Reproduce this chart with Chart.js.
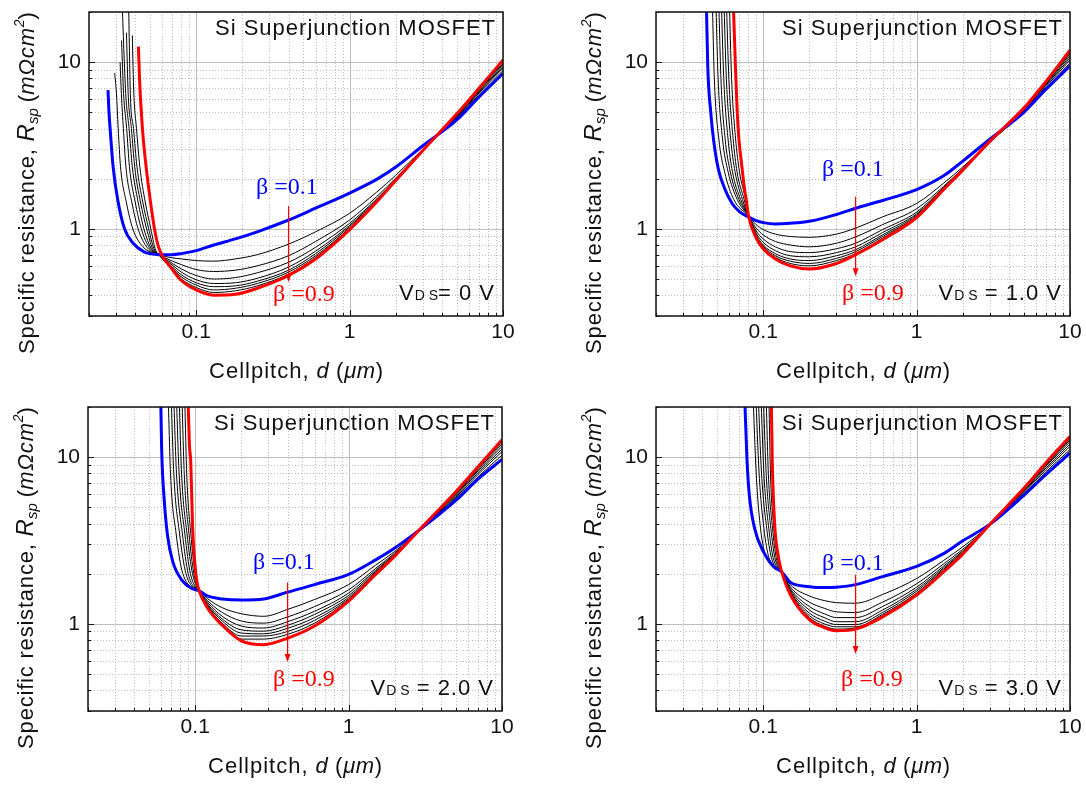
<!DOCTYPE html>
<html>
<head>
<meta charset="utf-8">
<script src="https://cdn.jsdelivr.net/npm/chart.js@4.4.1/dist/chart.umd.min.js"></script>
<style>
    html, body { margin: 0; padding: 0; background: #fff; }
    #wrap { position: relative; width: 1086px; height: 785px; }
    canvas { position: absolute; }
</style>
</head>
<body>
<div id="wrap">
    <canvas id="p0" width="543" height="392" style="left:0;top:0"></canvas>
    <canvas id="p1" width="543" height="392" style="left:543px;top:0"></canvas>
    <canvas id="p2" width="543" height="393" style="left:0;top:392px"></canvas>
    <canvas id="p3" width="543" height="393" style="left:543px;top:392px"></canvas>
</div>
<script>
// beta = 0.1 ... 0.9, one curve each (0.1 blue, 0.9 red, rest black)
const betaValues = [0.1, 0.2, 0.3, 0.4, 0.5, 0.6, 0.7, 0.8, 0.9];
const vdsLabels = ["= 0 V", " = 1.0 V", " = 2.0 V", " = 3.0 V"];
const xTickLabels = [0.1, 1, 10];
const yTickLabels = [1, 10];

// ---- VDS = 0 V ----
// steep left branch of each curve, [d, Rsp]
const leftVds0 = [
    [[0.0266, 6.8], [0.027, 5.0], [0.0276, 3.75], [0.0287, 2.37], [0.0308, 1.49], [0.0341, 1.0], [0.0388, 0.82], [0.0454, 0.73], [0.05, 0.71]],
    [[0.0294, 8.6], [0.0302, 6.5], [0.031, 4.0], [0.0321, 2.36], [0.035, 1.45], [0.0386, 1.0], [0.045, 0.78]],
    [[0.0319, 10], [0.0325, 6.5], [0.0335, 4.0], [0.0348, 2.36], [0.038, 1.45], [0.0418, 1.0], [0.048, 0.77]],
    [[0.0326, 13.5], [0.0336, 6.5], [0.0352, 4.0], [0.0367, 2.36], [0.040, 1.45], [0.0439, 1.0], [0.0495, 0.77]],
    [[0.0328, 24], [0.0347, 6.5], [0.0365, 4.0], [0.0383, 2.36], [0.0418, 1.45], [0.0456, 1.0], [0.051, 0.76]],
    [[0.0351, 15], [0.036, 6.5], [0.0378, 4.0], [0.0397, 2.36], [0.0433, 1.45], [0.0475, 1.0], [0.052, 0.76]],
    [[0.0362, 24], [0.0372, 6.5], [0.039, 4.0], [0.0411, 2.36], [0.0448, 1.45], [0.049, 1.0], [0.053, 0.76]],
    [[0.0383, 14.5], [0.0392, 6.5], [0.0408, 4.0], [0.0429, 2.36], [0.0465, 1.45], [0.0506, 1.0], [0.054, 0.76]],
    [[0.042, 12.4], [0.0427, 8.0], [0.0436, 5.5], [0.045, 3.6], [0.0468, 2.5], [0.049, 1.75], [0.0515, 1.25], [0.054, 0.95]]
];
const gridVds0 = [0.057, 0.07, 0.08, 0.1, 0.13, 0.18, 0.25, 0.4, 0.6, 1, 1.5, 2, 3, 5, 7, 10];
const rspVds0 = [
    [0.70, 0.70, 0.71, 0.74, 0.80, 0.87, 0.96, 1.13, 1.33, 1.64, 1.98, 2.35, 3.15, 4.5, 6.2, 8.55],
    [0.70, 0.67, 0.66, 0.645, 0.64, 0.66, 0.70, 0.81, 0.96, 1.24, 1.66, 2.1, 3.0, 4.6, 6.4, 8.9],
    [0.70, 0.64, 0.61, 0.57, 0.555, 0.565, 0.60, 0.69, 0.84, 1.13, 1.56, 2.02, 2.95, 4.65, 6.55, 9.2],
    [0.70, 0.62, 0.575, 0.525, 0.50, 0.51, 0.545, 0.63, 0.775, 1.08, 1.51, 1.98, 2.93, 4.7, 6.65, 9.4],
    [0.70, 0.605, 0.55, 0.495, 0.47, 0.475, 0.505, 0.59, 0.735, 1.05, 1.49, 1.96, 2.93, 4.75, 6.75, 9.6],
    [0.70, 0.59, 0.53, 0.475, 0.45, 0.455, 0.485, 0.565, 0.71, 1.03, 1.47, 1.95, 2.93, 4.8, 6.85, 9.8],
    [0.70, 0.58, 0.515, 0.46, 0.43, 0.44, 0.47, 0.55, 0.69, 1.01, 1.46, 1.95, 2.94, 4.83, 6.9, 10.0],
    [0.70, 0.57, 0.50, 0.445, 0.415, 0.425, 0.455, 0.535, 0.675, 1.0, 1.455, 1.95, 2.94, 4.87, 6.95, 10.15],
    [0.77, 0.57, 0.49, 0.43, 0.40, 0.405, 0.44, 0.525, 0.66, 0.99, 1.45, 1.95, 2.95, 4.9, 7.0, 10.3]
];

// ---- VDS = 1.0 V ----
const leftVds1 = [
    [[0.0425, 25], [0.0435, 9.4], [0.0455, 5.0], [0.0475, 3.4], [0.0509, 2.3], [0.056, 1.75], [0.0627, 1.42], [0.07, 1.27]],
    [[0.0465, 25], [0.048, 8], [0.0513, 3.5], [0.056, 2.2], [0.0643, 1.5]],
    [[0.049, 25], [0.0508, 8], [0.0542, 3.5], [0.059, 2.2], [0.0677, 1.5]],
    [[0.0512, 25], [0.053, 8], [0.0564, 3.5], [0.061, 2.2], [0.0695, 1.5]],
    [[0.0532, 25], [0.0553, 8], [0.0589, 3.5], [0.063, 2.2], [0.0713, 1.5]],
    [[0.0553, 25], [0.0575, 8], [0.0613, 3.5], [0.0655, 2.2], [0.0732, 1.5]],
    [[0.0574, 25], [0.0597, 8], [0.0636, 3.5], [0.0675, 2.2], [0.0751, 1.5]],
    [[0.06, 25], [0.0622, 8], [0.066, 3.5], [0.07, 2.2], [0.0768, 1.5]],
    [[0.0636, 25], [0.0659, 9.4], [0.0677, 5.0], [0.0695, 3.42], [0.0725, 2.4], [0.0751, 1.8], [0.0775, 1.5]]
];
const gridVds1 = [0.08, 0.09, 0.1, 0.12, 0.15, 0.2, 0.3, 0.4, 0.6, 1, 1.5, 2, 3, 5, 7, 10];
const rspVds1 = [
    [1.18, 1.12, 1.09, 1.07, 1.08, 1.11, 1.22, 1.33, 1.48, 1.72, 2.08, 2.55, 3.45, 5.0, 6.9, 9.5],
    [1.2, 1.06, 0.99, 0.93, 0.90, 0.89, 0.93, 1.01, 1.18, 1.42, 1.88, 2.35, 3.3, 5.05, 7.0, 9.9],
    [1.2, 1.01, 0.92, 0.84, 0.80, 0.78, 0.82, 0.895, 1.06, 1.32, 1.80, 2.3, 3.3, 5.1, 7.15, 10.3],
    [1.2, 0.97, 0.87, 0.78, 0.73, 0.72, 0.76, 0.82, 0.99, 1.26, 1.77, 2.27, 3.3, 5.15, 7.3, 10.6],
    [1.2, 0.94, 0.83, 0.74, 0.69, 0.68, 0.72, 0.78, 0.95, 1.23, 1.75, 2.26, 3.31, 5.18, 7.4, 10.9],
    [1.2, 0.92, 0.80, 0.71, 0.66, 0.645, 0.69, 0.75, 0.92, 1.21, 1.74, 2.25, 3.32, 5.22, 7.5, 11.2],
    [1.2, 0.90, 0.785, 0.69, 0.64, 0.62, 0.665, 0.73, 0.90, 1.19, 1.73, 2.25, 3.33, 5.25, 7.58, 11.4],
    [1.2, 0.89, 0.77, 0.675, 0.62, 0.60, 0.645, 0.71, 0.88, 1.18, 1.72, 2.25, 3.34, 5.28, 7.65, 11.6],
    [1.21, 0.88, 0.76, 0.66, 0.60, 0.575, 0.62, 0.70, 0.86, 1.17, 1.72, 2.25, 3.35, 5.3, 7.7, 11.8]
];

// ---- VDS = 2.0 V ----
const leftVds2 = [
    [[0.0595, 25], [0.0604, 11.3], [0.0625, 5.9], [0.0659, 3.42], [0.0713, 2.37], [0.0834, 1.79], [0.095, 1.63]],
    [[0.0665, 25], [0.069, 8], [0.075, 3.5], [0.083, 2.0]],
    [[0.0695, 25], [0.0725, 8], [0.079, 3.5], [0.087, 2.0]],
    [[0.0722, 25], [0.0755, 8], [0.0824, 3.5], [0.09, 2.0]],
    [[0.0752, 25], [0.0785, 8], [0.0855, 3.5], [0.093, 2.0]],
    [[0.0783, 25], [0.0815, 8], [0.0883, 3.5], [0.096, 2.0]],
    [[0.0817, 25], [0.0848, 8], [0.091, 3.5], [0.098, 2.0]],
    [[0.0852, 25], [0.088, 8], [0.0935, 3.5], [0.1, 2.0]],
    [[0.0895, 25], [0.0916, 12], [0.0935, 9.4], [0.0962, 3.75], [0.0995, 2.3], [0.1026, 1.79]]
];
const gridVds2 = [0.106, 0.12, 0.15, 0.2, 0.28, 0.4, 0.6, 1, 1.5, 2, 3, 5, 7, 10];
const rspVds2 = [
    [1.58, 1.47, 1.41, 1.39, 1.41, 1.55, 1.72, 1.98, 2.42, 2.85, 3.75, 5.5, 7.4, 9.7],
    [1.58, 1.42, 1.25, 1.15, 1.11, 1.22, 1.40, 1.72, 2.25, 2.72, 3.75, 5.65, 7.65, 10.3],
    [1.58, 1.38, 1.17, 1.04, 1.01, 1.10, 1.27, 1.60, 2.15, 2.66, 3.75, 5.75, 7.9, 10.8],
    [1.58, 1.35, 1.11, 0.97, 0.944, 1.03, 1.19, 1.53, 2.10, 2.62, 3.76, 5.85, 8.1, 11.2],
    [1.58, 1.32, 1.07, 0.92, 0.904, 0.98, 1.14, 1.48, 2.06, 2.60, 3.77, 5.95, 8.3, 11.6],
    [1.58, 1.30, 1.04, 0.88, 0.871, 0.94, 1.09, 1.44, 2.03, 2.58, 3.78, 6.02, 8.45, 12.0],
    [1.58, 1.28, 1.01, 0.845, 0.845, 0.90, 1.05, 1.41, 2.01, 2.57, 3.79, 6.1, 8.6, 12.3],
    [1.58, 1.265, 0.99, 0.81, 0.81, 0.865, 1.01, 1.39, 1.99, 2.56, 3.8, 6.15, 8.7, 12.5],
    [1.58, 1.25, 0.98, 0.79, 0.75, 0.82, 0.97, 1.37, 1.98, 2.55, 3.8, 6.2, 8.8, 12.7]
];

// ---- VDS = 3.0 V ----
const leftVds3 = [
    [[0.0755, 25], [0.0783, 9.86], [0.0812, 5.9], [0.0878, 3.75], [0.1, 2.72], [0.117, 2.2]],
    [[0.0856, 25], [0.09, 8], [0.096, 3.75], [0.105, 2.5]],
    [[0.0892, 25], [0.094, 8], [0.101, 3.75], [0.109, 2.5]],
    [[0.0925, 25], [0.0975, 8], [0.1053, 3.75], [0.113, 2.5]],
    [[0.0964, 25], [0.101, 8], [0.1087, 3.75], [0.116, 2.5]],
    [[0.1, 25], [0.1045, 8], [0.1121, 3.75], [0.119, 2.5]],
    [[0.1042, 25], [0.108, 8], [0.115, 3.75], [0.1215, 2.5]],
    [[0.1087, 25], [0.1115, 8], [0.1175, 3.75], [0.124, 2.5]],
    [[0.1127, 25], [0.1145, 9.6], [0.119, 3.85], [0.125, 2.6], [0.128, 2.3]]
];
const gridVds3 = [0.132, 0.15, 0.2, 0.25, 0.3, 0.4, 0.6, 1, 1.5, 2, 3, 5, 7, 10];
const rspVds3 = [
    [2.05, 1.78, 1.67, 1.65, 1.66, 1.72, 1.92, 2.21, 2.64, 3.15, 3.95, 5.9, 7.9, 10.6],
    [2.05, 1.72, 1.47, 1.38, 1.34, 1.33, 1.50, 1.87, 2.40, 2.9, 3.9, 6.0, 8.2, 11.1],
    [2.05, 1.67, 1.35, 1.24, 1.18, 1.17, 1.35, 1.74, 2.29, 2.8, 3.9, 6.1, 8.45, 11.6],
    [2.05, 1.63, 1.27, 1.15, 1.09, 1.09, 1.27, 1.66, 2.22, 2.74, 3.9, 6.2, 8.65, 12.0],
    [2.05, 1.60, 1.21, 1.09, 1.03, 1.03, 1.21, 1.61, 2.17, 2.7, 3.92, 6.28, 8.85, 12.4],
    [2.05, 1.57, 1.16, 1.04, 0.99, 0.99, 1.17, 1.57, 2.13, 2.67, 3.93, 6.35, 9.0, 12.7],
    [2.05, 1.55, 1.12, 1.0, 0.96, 0.96, 1.14, 1.53, 2.10, 2.65, 3.94, 6.4, 9.1, 12.95],
    [2.05, 1.52, 1.09, 0.97, 0.93, 0.945, 1.12, 1.51, 2.07, 2.63, 3.95, 6.45, 9.2, 13.15],
    [2.05, 1.50, 1.06, 0.95, 0.91, 0.93, 1.10, 1.49, 2.05, 2.62, 3.95, 6.5, 9.3, 13.3]
];

const SANS = "'Liberation Sans', Arial, sans-serif";
const SERIF = "'Liberation Serif', 'Times New Roman', serif";

// plot box inside each 543px canvas, and where the labels sit
const panels = [
    { id: "p0", left: leftVds0, grid: gridVds0, rsp: rspVds0, box: { l: 89, t: 12, r: 503, b: 316 },
      b1: [167, 182], b9: [184, 289], arrow: [1.37, 0.48] },
    { id: "p1", left: leftVds1, grid: gridVds1, rsp: rspVds1, box: { l: 113, t: 12, r: 527, b: 316 },
      b1: [166, 164], b9: [186, 288], arrow: [1.56, 0.52] },
    { id: "p2", left: leftVds2, grid: gridVds2, rsp: rspVds2, box: { l: 88, t: 15, r: 502, b: 319 },
      b1: [165, 162], b9: [185, 279], arrow: [1.77, 0.59] },
    { id: "p3", left: leftVds3, grid: gridVds3, rsp: rspVds3, box: { l: 113, t: 15, r: 527, b: 319 },
      b1: [166, 163], b9: [185, 279], arrow: [1.97, 0.66] }
];

function minorValues(lo, hi) {
    let out = [];
    for (let e = -2; e <= 1; e++) {
        for (let m = 1; m <= 9; m++) {
            let v = m * Math.pow(10, e);
            if (v >= lo * 0.999 && v <= hi * 1.001) out.push({ v: v, major: m === 1 });
        }
    }
    return out;
}

// draws text pieces one after another, centred on (cx, cy)
function drawRich(ctx, parts, cx, cy, angle, align) {
    ctx.save();
    ctx.translate(cx, cy);
    ctx.rotate(angle || 0);
    ctx.textBaseline = "alphabetic";
    ctx.textAlign = "left";
    let total = 0;
    parts.forEach(p => {
        ctx.font = p.f;
        ctx.letterSpacing = (p.ls || 0) + "px";
        p.w = ctx.measureText(p.t).width;
        total += p.w;
    });
    let x = align === "right" ? -total : (align === "left" ? 0 : -total / 2);
    parts.forEach(p => {
        ctx.font = p.f;
        ctx.letterSpacing = (p.ls || 0) + "px";
        ctx.fillStyle = p.c || "#111";
        ctx.fillText(p.t, x, p.dy || 0);
        x += p.w;
    });
    ctx.restore();
}

const decor = {
    id: "decor",
    beforeDatasetsDraw(chart, args, opts) {
        const ctx = chart.ctx, a = chart.chartArea;
        const xs = chart.scales.x, ys = chart.scales.y;
        ctx.save();
        ctx.lineWidth = 1;
        minorValues(0.02, 10).forEach(t => {
            const px = Math.round(xs.getPixelForValue(t.v)) + 0.5;
            ctx.strokeStyle = t.major ? "#bdbdbd" : "#bcbcbc";
            ctx.setLineDash(t.major ? [] : [1, 2]);
            ctx.beginPath(); ctx.moveTo(px, a.top); ctx.lineTo(px, a.bottom); ctx.stroke();
        });
        minorValues(0.3, 20).forEach(t => {
            const py = Math.round(ys.getPixelForValue(t.v)) + 0.5;
            ctx.strokeStyle = t.major ? "#bdbdbd" : "#bcbcbc";
            ctx.setLineDash(t.major ? [] : [1, 2]);
            ctx.beginPath(); ctx.moveTo(a.left, py); ctx.lineTo(a.right, py); ctx.stroke();
        });
        ctx.restore();
    },
    afterDatasetsDraw(chart, args, opts) {
        const ctx = chart.ctx, a = chart.chartArea;
        const xs = chart.scales.x, ys = chart.scales.y;
        const p = panels[opts.k];
        ctx.save();
        // frame and inward ticks
        ctx.strokeStyle = "#111";
        ctx.lineWidth = 1.5;
        ctx.strokeRect(a.left, a.top, a.right - a.left, a.bottom - a.top);
        ctx.lineWidth = 1;
        minorValues(0.02, 10).forEach(t => {
            const px = Math.round(xs.getPixelForValue(t.v)) + 0.5;
            ctx.beginPath(); ctx.moveTo(px, a.bottom); ctx.lineTo(px, a.bottom - (t.major ? 6 : 3)); ctx.stroke();
        });
        minorValues(0.3, 20).forEach(t => {
            const py = Math.round(ys.getPixelForValue(t.v)) + 0.5;
            ctx.beginPath(); ctx.moveTo(a.left, py); ctx.lineTo(a.left + (t.major ? 6 : 3), py); ctx.stroke();
        });

        // tick labels
        ctx.fillStyle = "#111";
        ctx.font = "21px " + SANS;
        ctx.textBaseline = "middle";
        ctx.textAlign = "center";
        xTickLabels.forEach(v => ctx.fillText(String(v), xs.getPixelForValue(v), a.bottom + 16));
        ctx.textAlign = "right";
        yTickLabels.forEach(v => ctx.fillText(String(v), a.left - 8, ys.getPixelForValue(v)));
        ctx.restore();

        // axis titles
        drawRich(ctx, [
            { t: "Cellpitch, ", f: "22px " + SANS, ls: 1 },
            { t: "d", f: "italic 22px " + SANS },
            { t: " (", f: "22px " + SANS, ls: 1 },
            { t: "\u03BCm", f: "italic 22px " + SANS, ls: 0.5 },
            { t: ")", f: "22px " + SANS }
        ], (a.left + a.right) / 2, a.bottom + 62, 0);
        drawRich(ctx, [
            { t: "Specific resistance, ", f: "22px " + SANS, ls: 0.8 },
            { t: "R", f: "italic 24px " + SANS },
            { t: "sp", f: "italic 15px " + SANS, dy: 4 },
            { t: " (", f: "22px " + SANS },
            { t: "m\u03A9cm", f: "italic 22px " + SANS, ls: 0.8 },
            { t: "2", f: "italic 14px " + SANS, dy: -10 },
            { t: ")", f: "22px " + SANS }
        ], a.left - 55, a.top + 171, -Math.PI / 2);

        // in-plot texts
        drawRich(ctx, [{ t: "Si Superjunction MOSFET", f: "22px " + SANS, ls: 1 }],
            a.right - 7, a.top + 23, 0, "right");
        drawRich(ctx, [
            { t: "V", f: "22px " + SANS, ls: 1 },
            { t: "D S", f: "14px " + SANS },
            { t: vdsLabels[opts.k], f: "22px " + SANS, ls: 1 }
        ], a.right - 8, a.bottom - 16, 0, "right");
        drawRich(ctx, [{ t: "\u03B2 =0.1", f: "24px " + SERIF, c: "#0000ff" }],
            a.left + p.b1[0], a.top + p.b1[1], 0, "left");
        drawRich(ctx, [{ t: "\u03B2 =0.9", f: "24px " + SERIF, c: "#ff0000" }],
            a.left + p.b9[0], a.top + p.b9[1], 0, "left");

        // red arrow from beta=0.1 towards beta=0.9
        const ax = xs.getPixelForValue(0.4);
        const y0 = ys.getPixelForValue(p.arrow[0]), y1 = ys.getPixelForValue(p.arrow[1]);
        ctx.save();
        ctx.strokeStyle = "#ff0000";
        ctx.fillStyle = "#ff0000";
        ctx.lineWidth = 1.2;
        ctx.beginPath(); ctx.moveTo(ax, y0); ctx.lineTo(ax, y1 - 6); ctx.stroke();
        ctx.beginPath(); ctx.moveTo(ax - 3, y1 - 8); ctx.lineTo(ax + 3, y1 - 8); ctx.lineTo(ax, y1); ctx.closePath(); ctx.fill();
        ctx.restore();
    }
};

function buildDatasets(p) {
    return betaValues.map((b, i) => {
        const pts = p.left[i].map(q => ({ x: q[0], y: q[1] }))
            .concat(p.grid.map((x, j) => ({ x: x, y: p.rsp[i][j] })));
        const color = i === 0 ? "#0000ff" : (i === 8 ? "#ff0000" : "#000000");
        return {
            label: "\u03B2=" + b,
            data: pts,
            borderColor: color,
            borderWidth: (i === 0 || i === 8) ? 3 : 1,
            pointRadius: 0,
            fill: false,
            cubicInterpolationMode: "monotone",
            order: i === 8 ? 0 : (i === 0 ? 1 : 2)
        };
    });
}

panels.forEach((p, k) => {
    const canvas = document.getElementById(p.id);
    new Chart(canvas, {
        type: "line",
        data: { datasets: buildDatasets(p) },
        options: {
            responsive: false,
            animation: false,
            layout: { padding: { left: p.box.l, top: p.box.t, right: canvas.width - p.box.r, bottom: canvas.height - p.box.b } },
            plugins: { legend: { display: false }, tooltip: { enabled: false }, decor: { k: k } },
            scales: {
                x: { type: "logarithmic", min: 0.02, max: 10, display: false },
                y: { type: "logarithmic", min: 0.3, max: 20, display: false }
            }
        },
        plugins: [decor]
    });
});
</script>
</body>
</html>
